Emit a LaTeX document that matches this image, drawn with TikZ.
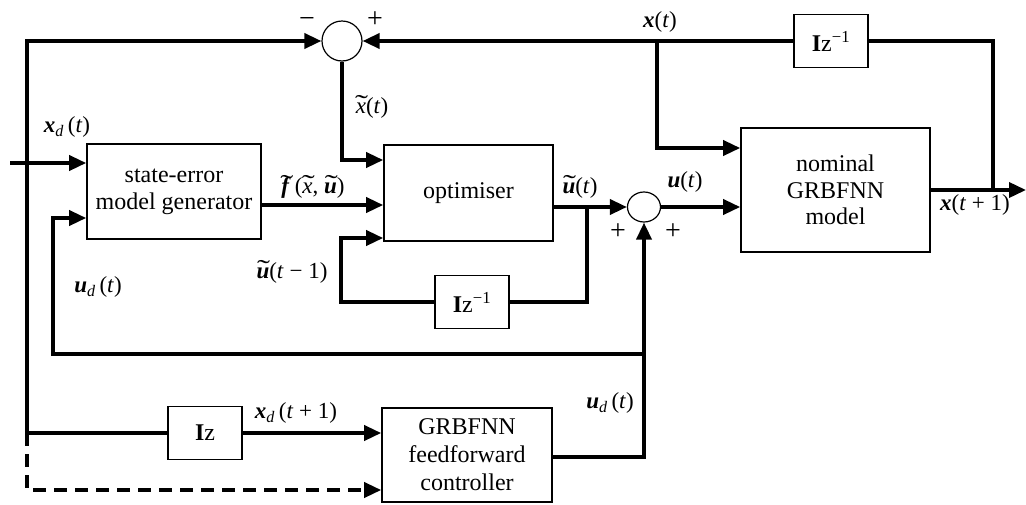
\documentclass[tikz,border=0pt]{standalone}
\usepackage{graphicx}
\usepackage{fontspec}
\setmainfont{Liberation Serif}
\usetikzlibrary{arrows.meta,shapes.geometric}
\newcommand{\vecbi}[1]{\textbf{\textit{#1}}}
\newcommand{\myit}[1]{\textit{#1}}
\newcommand{\tld}[1]{\setbox0=\hbox{#1}\hbox{\rlap{\hbox to \wd0{\hss\kern1.5pt\raisebox{0.5pt}{\scalebox{1.7}[1.1]{\char"02DC}}\hss}}\box0}}
\tikzset{
  blk/.style={draw, line width=1.6pt, inner sep=0pt, align=center, font=\fontsize{24}{27}\selectfont},
  sumc/.style={draw, circle, line width=1.2pt, inner sep=0pt},
  conn/.style={line width=3.6pt, line join=miter, -{Triangle[length=17pt,width=15pt]}},
  wire/.style={line width=3.6pt, line join=miter},
  lbl/.style={font=\fontsize{23}{26}\selectfont, inner sep=0pt},
  sgn/.style={font=\fontsize{28}{30}\selectfont, inner sep=0pt},
}
\begin{document}
\begin{tikzpicture}[x=1pt,y=-1pt]
\useasboundingbox (0,0) rectangle (1026,504);
% blocks
\node[blk, minimum width=174pt, minimum height=95pt] (seg) at (174,191.5) {state-error\\model generator};
\node[blk, minimum width=169pt, minimum height=96pt] (opt) at (468.5,193) {optimiser};
\node[blk, minimum width=189pt, minimum height=124pt, font=\fontsize{24}{26.5}\selectfont] (nom) at (835.5,190) {nominal\\GRBFNN\\model};
\node[blk, minimum width=170pt, minimum height=94pt, font=\fontsize{24}{28}\selectfont] (gff) at (467,455) {GRBFNN\\feedforward\\controller};
\node[blk, minimum width=74pt, minimum height=53pt] (d1) at (831,41) {\textbf{I}z\textsuperscript{−1}};
\node[blk, minimum width=74pt, minimum height=53pt] (d2) at (472,302) {\textbf{I}z\textsuperscript{−1}};
\node[blk, minimum width=74pt, minimum height=53pt] (d3) at (205,433) {\textbf{I}z};
% summing junctions
\node[sumc, minimum size=40pt] (s1) at (342,41) {};
\node[sumc, minimum width=33pt, minimum height=30pt, ellipse] (s2) at (644,207) {};
% helper coordinates
\coordinate (in) at (10,163);
\coordinate (lt) at (27,41);
\coordinate (lb) at (27,433);
\coordinate (ld) at (27,490);
\coordinate (ub) at (53,354);
\coordinate (ut) at (53,218);
\coordinate (ur) at (644,354);
\coordinate (xb) at (342,160);
\coordinate (fy) at (0,205);
\coordinate (uy) at (0,207);
\coordinate (ub1) at (587,207);
\coordinate (ub2) at (587,302);
\coordinate (ul2) at (341,302);
\coordinate (ul1) at (341,238);
\coordinate (xo) at (1026,190);
\coordinate (xr) at (993,190);
\coordinate (xrt) at (993,41);
\coordinate (xt) at (657,41);
\coordinate (xtb) at (657,148);
\coordinate (gy) at (0,457);
% connectors
\draw[conn] (in) -- (seg.west |- in);
\draw[conn] (lb) -- (lt) -- (s1.west);
\draw[wire] (lb) -- (d3.west);
\draw[conn] (d3.east) -- (gff.west |- d3.east);
\draw[conn, dash pattern=on 13pt off 8pt] (lb) -- (ld) -- (gff.west |- ld);
\draw[conn] (gff.east |- gy) -- (s2.south |- gy) -- (s2.south);
\draw[conn] (ur) -- (ub) -- (ut) -- (seg.west |- ut);
\draw[conn] (seg.east |- fy) -- (opt.west |- fy);
\draw[conn] (s1.south) -- (xb) -- (opt.west |- xb);
\draw[conn] (opt.east |- uy) -- (s2.west);
\draw[wire] (ub1) -- (ub2) -- (d2.east);
\draw[conn] (d2.west) -- (ul2) -- (ul1) -- (opt.west |- ul1);
\draw[conn] (s2.east) -- (nom.west |- s2.east);
\draw[conn] (nom.east |- xo) -- (xo);
\draw[wire] (xr) -- (xrt) -- (d1.east);
\draw[conn] (d1.west) -- (s1.east);
\draw[conn] (xt) -- (xtb) -- (nom.west |- xtb);
% labels
\node[lbl] (l1) at (67,127) {\vecbi{x}\textsubscript{\myit{d}}\,(\myit{t})};
\node[lbl] (l2) at (372,107) {\tld{\myit{x}}(\myit{t})};
\node[lbl] (l3) at (313,187) {\tld{\vecbi{f}}\,(\tld{\myit{x}}, \tld{\vecbi{u}})};
\node[lbl] (l4) at (580,187) {\tld{\vecbi{u}}(\myit{t})};
\node[lbl] (l5) at (685,182) {\vecbi{u}(\myit{t})};
\node[lbl] (l6) at (660,22) {\vecbi{x}(\myit{t})};
\node[lbl, anchor=north] (l7) at (975,194) {\vecbi{x}(\myit{t} + 1)};
\node[lbl] (l8) at (292,272) {\tld{\vecbi{u}}(\myit{t} − 1)};
\node[lbl] (l9) at (98,287) {\vecbi{u}\textsubscript{\myit{d}}\,(\myit{t})};
\node[lbl] (l10) at (296,413) {\vecbi{x}\textsubscript{\myit{d}}\,(\myit{t} + 1)};
\node[lbl] (l11) at (610,403) {\vecbi{u}\textsubscript{\myit{d}}\,(\myit{t})};
% signs
\node[sgn] (m1) at (307,22) {−};
\node[sgn] (p1) at (375,20) {+};
\node[sgn] (p2) at (618,232) {+};
\node[sgn] (p3) at (673,232) {+};
\end{tikzpicture}
\end{document}
